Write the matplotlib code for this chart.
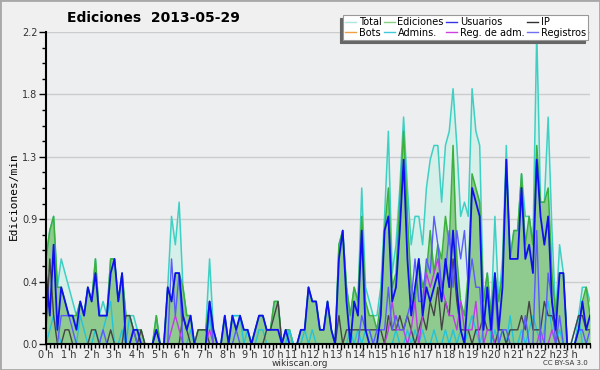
import numpy as np
import matplotlib
matplotlib.use("Agg")
import matplotlib.pyplot as plt
from matplotlib.lines import Line2D
from matplotlib.patches import Rectangle

# edits per minute, 10 minute bins, 2013-05-29
total = [.6, .8, .9, .4, .6, .5,  .4, .3, .2, .3, .2, .4,  .3, .6, .2, .3, .2, .6,
         .6, .3, .5, .2, .2, .2,  .1, .1, 0, 0, 0, .2,  0, 0, .4, .9, .7, 1.0,
         .4, .2, .2, 0, .1, .1,  .1, .6, .1, 0, 0, .2,  0, .2, .2, .2, .1, .1,
         0, .1, .2, .2, .1, .1,  .3, .3, 0, .1, .1, 0,  0, .1, .1, .4, .3, .3,
         .1, .1, .3, .1, 0, .7,  .8, .4, .2, .4, .3, 1.1,  .4, .3, .2, .2, .4, .9,
         1.5, .5, .7, 1.1, 1.6, 1.1,  .7, .9, .9, .7, 1.1, 1.3,  1.4, 1.4, 1.0, 1.4, 1.5, 1.8,
         1.4, .9, 1.0, .9, 1.8, 1.5,  1.4, .3, .5, .2, .9, .3,  .6, 1.4, .6, .8, .8, 1.2,
         .9, .9, .7, 2.2, 1.0, 1.0,  1.6, .8, .2, .7, .5, 0,  0, 0, .2, .4, .4, .3]
ediciones = [.6, .8, .9, .4, .4, .3,  .2, .2, .2, .3, .2, .4,  .3, .6, .2, .2, .2, .6,
             .6, .3, .5, .2, .2, .1,  .1, .1, 0, 0, 0, .2,  0, 0, .4, .3, .5, .5,
             .4, .2, .2, 0, .1, .1,  .1, .3, .1, 0, 0, .2,  0, .2, .1, .2, .1, .1,
             0, .1, .2, .2, .1, .1,  .3, .3, 0, .1, .1, 0,  0, .1, .1, .4, .3, .3,
             .1, .1, .3, .1, 0, .7,  .8, .4, .2, .4, .3, .9,  .3, .2, .2, .1, .3, .8,
             1.1, .4, .5, 1.0, 1.5, .9,  .4, .3, .6, .4, .5, .8,  .5, .7, .6, .9, .7, 1.4,
             .6, .3, .2, .5, 1.2, 1.1,  1.0, .3, .5, .2, .5, .3,  .5, 1.3, .6, .8, .8, 1.2,
             .7, .9, .7, 1.4, 1.0, 1.0,  1.1, .5, .2, .5, .5, 0,  0, 0, .1, .3, .4, .2]
usuarios = [.5, .2, .7, .1, .4, .3,  .2, .2, .1, .3, .2, .4,  .3, .5, .2, .2, .2, .5,
            .6, .3, .5, 0, 0, .1,  .1, 0, 0, 0, 0, .1,  0, 0, .4, .3, .5, .5,
            .2, .1, .2, 0, 0, 0,  0, .3, .1, 0, 0, .2,  0, .2, .1, .2, .1, .1,
            0, .1, .2, .2, .1, .1,  .1, .1, 0, .1, 0, 0,  0, .1, .1, .4, .3, .3,
            .1, .1, .3, .1, 0, .6,  .8, .3, 0, .3, .2, .8,  .1, 0, 0, 0, .2, .8,
            .9, .3, .4, .8, 1.3, .6,  .2, .4, .6, .2, .4, .3,  .4, .5, .3, .6, .4, .8,
            .4, .1, 0, .4, 1.1, 1.0,  .9, .1, .4, .1, .5, .1,  .4, 1.3, .6, .6, .6, 1.1,
            .6, .7, .5, 1.3, .9, .7,  .9, .3, .1, .5, .5, 0,  0, 0, .1, .3, .1, .2]
ip = [.1, .6, .2, 0, 0, .1,  .1, 0, 0, 0, 0, 0,  .1, .1, 0, 0, 0, .1,
      0, 0, 0, .2, .2, .1,  0, .1, 0, 0, 0, .1,  0, 0, 0, 0, 0, 0,
      .2, .1, 0, 0, .1, .1,  .1, 0, 0, 0, 0, 0,  0, 0, 0, 0, 0, 0,
      0, 0, 0, 0, .1, .1,  .2, .3, 0, 0, 0, 0,  0, 0, 0, 0, 0, 0,
      0, 0, 0, 0, 0, .2,  0, .1, .1, .1, .1, .1,  .1, .1, .1, .1, .1, 0,
      .2, .1, .1, .2, .1, .2,  .1, 0, .1, .2, .1, .3,  .2, .4, .1, .3, .2, .6,
      .3, .1, .1, .1, 0, .1,  .1, .2, .1, .1, 0, .1,  .1, 0, .1, .1, .1, .2,
      .1, .3, .1, .1, .1, .3,  .2, .2, .1, 0, 0, 0,  0, .1, .2, .2, .1, .1]
admins = [0, .1, .2, .1, 0, 0,  0, 0, 0, .2, .1, 0,  0, .1, 0, .1, .2, .3,
          0, 0, .1, 0, .2, .1,  0, 0, 0, 0, 0, 0,  0, 0, 0, 0, 0, 0,
          0, 0, .1, 0, 0, 0,  0, .2, 0, 0, 0, 0,  0, .2, .2, .2, 0, .1,
          0, 0, .1, .1, 0, 0,  0, 0, 0, 0, .1, 0,  0, 0, .1, 0, .1, 0,
          0, 0, 0, 0, 0, 0,  0, 0, .1, 0, .1, 0,  .1, .1, 0, 0, 0, 0,
          0, 0, .1, 0, 0, .1,  0, .1, 0, .1, 0, 0,  .1, 0, 0, .1, 0, .1,
          0, .1, 0, .1, .2, .1,  0, .1, .4, 0, .1, 0,  .1, 0, .2, 0, 0, .1,
          0, .1, .2, .1, 0, .1,  .3, .1, 0, .1, 0, 0,  0, .1, .2, 0, 0, 0]
registros = [0, 0, 0, 0, .2, .2,  .2, .1, 0, 0, 0, 0,  0, 0, 0, .1, 0, 0,
             0, 0, 0, 0, 0, .1,  0, 0, 0, 0, 0, 0,  0, 0, 0, .6, .2, .5,
             0, 0, 0, 0, 0, 0,  0, .3, 0, 0, 0, 0,  0, 0, .1, 0, 0, 0,
             0, 0, 0, 0, 0, 0,  0, 0, 0, 0, 0, 0,  0, 0, 0, 0, 0, 0,
             0, 0, 0, 0, 0, 0,  0, 0, 0, 0, 0, .2,  .1, .1, 0, .1, .1, .1,
             .4, .1, .2, .1, .1, .2,  .3, .6, .3, .3, .6, .5,  .9, .7, .4, .5, .8, .4,
             .8, .6, .8, .4, .6, .4,  .4, 0, 0, 0, .4, 0,  .1, .1, 0, 0, 0, 0,
             .2, 0, 0, .8, 0, 0,  .5, .3, 0, .2, 0, 0,  0, 0, .1, .1, 0, .1]
reg_adm = [0] * 33 + [.1, .2, .1] + [0] * 7 + [.1] + [0] * 46 + \
          [.1, .3, .1, .1, .1, 0,  .1, .3, 0, .2, .5, .4,  .5, .6, .4, .3, .2, .2,
           .1, .3, .1, .1, .1, .3,  0, 0, .1, .1, 0, 0,  0, 0, 0, 0, 0, 0,
           0, 0, 0, 0, .1, 0,  0, .1, 0, 0, 0, 0,  0, 0, 0, 0, 0, 0]
hour_labels = ["%d h" % h for h in range(24)]

x = np.linspace(0, 24, len(total))

fig = plt.figure(figsize=(6, 3.7), dpi=100, facecolor="#f0f0f0")
ax = fig.add_axes([46 / 600, 1 - 344 / 370, 544 / 600, 312 / 370])
ax.set_facecolor("#edeef0")

ax.fill_between(x, total, color="#d6efe8", lw=0, zorder=1)
ax.fill_between(x, ediciones, color="#8fca8f", lw=0, zorder=1.1)
ax.plot(x, total, color="#3fd0c4", lw=1.1, zorder=2)
ax.plot(x, ediciones, color="#3cb03c", lw=1.1, zorder=2.1)
ax.plot(x, admins, color="#22c4dc", lw=1.0, zorder=2.2)
ax.plot(x, ip, color="#444444", lw=1.0, zorder=2.3)
ax.plot(x, reg_adm, color="#c03ce8", lw=1.0, zorder=2.4)
ax.plot(x, registros, color="#5a5aff", lw=1.0, zorder=2.5)
ax.plot(x, usuarios, color="#1010ee", lw=1.3, zorder=2.6)

ax.set_xlim(0, 24)
ax.set_ylim(0, 2.2)
ax.set_xticks(range(24))
ax.set_xticklabels(hour_labels)
ax.set_xticks(np.arange(0, 24.01, 1 / 6), minor=True)
yt = np.arange(6) * 0.44
ax.set_yticks(yt)
ax.set_yticklabels(["%.1f" % v for v in yt])
ax.set_yticks(np.arange(0, 2.21, 0.11), minor=True)
ax.tick_params(labelsize=7, colors="black", labelcolor="#333333")
ax.tick_params(axis="x", which="major", length=4, width=1, pad=0)
ax.tick_params(axis="x", which="minor", length=3, width=1)
ax.tick_params(axis="y", which="major", length=5, width=1, pad=1)
ax.tick_params(axis="y", which="minor", length=3, width=1)
ax.yaxis.grid(True, color="#cccccc", lw=1)
ax.set_axisbelow(True)
for s in ["top", "right"]:
    ax.spines[s].set_visible(False)
for s in ["left", "bottom"]:
    ax.spines[s].set_linewidth(1.5)
    ax.spines[s].set_zorder(5)

fig.text(14 / 600, 1 - 196 / 370, "Ediciones/min", rotation=90, ha="center", va="center",
         fontsize=8, family="DejaVu Sans Mono")
fig.text(153 / 600, 1 - 18 / 370, "Ediciones  2013-05-29", ha="center", va="center",
         fontsize=10, fontweight="bold")
fig.text(300 / 600, 1 - 363 / 370, "wikiscan.org", ha="center", va="center",
         fontsize=6.5, color="#333333")
fig.text(588 / 600, 1 - 363 / 370, "CC BY-SA 3.0", ha="right", va="center",
         fontsize=5, color="#333333")

handles = [Line2D([], [], color="#aee4e0", lw=1), Line2D([], [], color="#f0a040", lw=1),
           Line2D([], [], color="#86d086", lw=1), Line2D([], [], color="#40c8d8", lw=1),
           Line2D([], [], color="#3434e0", lw=1), Line2D([], [], color="#d040e0", lw=1),
           Line2D([], [], color="#303030", lw=1), Line2D([], [], color="#7070f0", lw=1)]
names = ["Total", "Bots", "Ediciones", "Admins.", "Usuarios", "Reg. de adm.", "IP", "Registros"]
leg = fig.legend(handles, names, loc="upper right", bbox_to_anchor=(593 / 600, 1 - 10 / 370),
                 ncol=4, fontsize=7, handlelength=1.1, handletextpad=0.3,
                 columnspacing=0.25, labelspacing=0.05, borderpad=0.25,
                 fancybox=False, framealpha=1, facecolor="white", edgecolor="#999999",
                 shadow={"ox": -2, "oy": -2, "color": "#666666", "alpha": 1})
leg.get_frame().set_linewidth(0.8)

fig.patches.append(Rectangle((0, 0), 1, 1, transform=fig.transFigure, fill=False,
                             edgecolor="#a8a8a8", lw=2))

fig.savefig("out.png", dpi=100, facecolor=fig.get_facecolor())
